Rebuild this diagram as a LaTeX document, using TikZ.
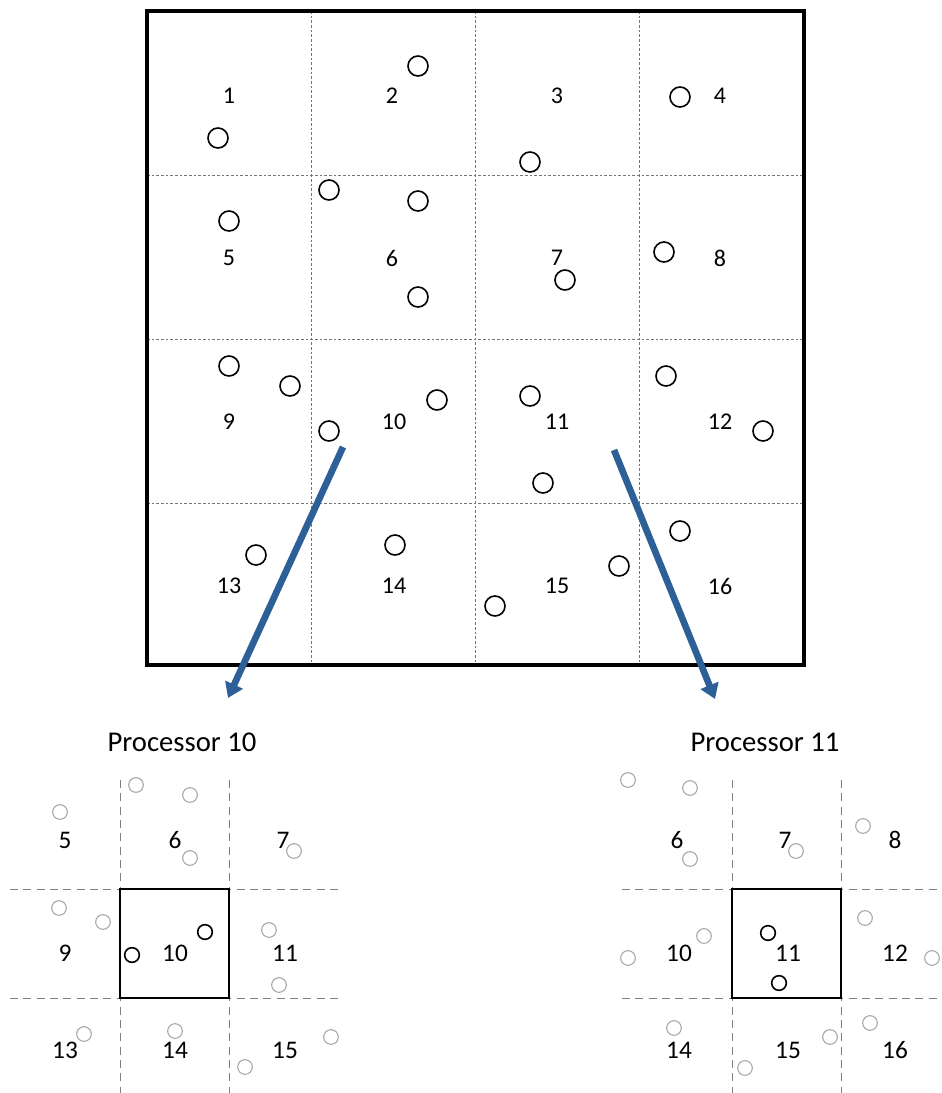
\documentclass[tikz,border=0pt]{standalone}
\usepackage{fontspec}
\setmainfont{Carlito}
\usetikzlibrary{arrows.meta,positioning}
\definecolor{arrowblue}{RGB}{46,96,152}

\begin{document}
\begin{tikzpicture}[
    x=0.75pt, y=-0.75pt,
    lbl/.style={inner sep=0pt, font=\fontsize{18}{21}\selectfont},
    plbl/.style={inner sep=0pt, font=\fontsize{19}{22}\selectfont},
    ptitle/.style={inner sep=0pt, font=\fontsize{21.5}{25}\selectfont},
    particle/.style={line width=1.2pt},
    ghost/.style={line width=0.8pt, gray!70},
    grid/.style={dashed, dash pattern=on 2pt off 1.5pt, line width=0.5pt, gray!90!black},
    halo/.style={dash pattern=on 6pt off 4pt, line width=0.7pt, gray},
    move/.style={line width=5pt, arrowblue, -{Triangle[length=11pt,width=14pt]}}
]
    \useasboundingbox (0,0) rectangle (942,1093);

    % global domain
    \draw[grid] (311,11) -- (311,665) (475,11) -- (475,665) (639,11) -- (639,665);
    \draw[grid] (147,175) -- (804,175) (147,339) -- (804,339) (147,503) -- (804,503);
    \draw[line width=2.6pt] (147,11) rectangle (804,665);

    \foreach \n/\x/\y in {1/229/96, 2/392/96, 3/557/96, 4/720/96,
        5/229/258, 6/392/258, 7/557/258, 8/720/258,
        9/229/422, 10/394/422, 11/557/422, 12/720/422,
        13/229/586, 14/394/586, 15/557/586, 16/720/586}
        \node[lbl] (c\n) at (\x,\y) {\n};

    \foreach \x/\y in {418/66, 218/138, 680/97, 530/162, 329/190, 229/221,
        418/201, 664/252, 565/280, 418/297, 229/366, 290/386, 437/400,
        530/396, 666/376, 329/431, 763/431, 543/483, 680/531, 256/555,
        395/545, 619/566, 495/606}
        \draw[particle] (\x,\y) circle[radius=7.5pt];

    % processor 10
    \node[ptitle] (p10) at (182,742) {Processor 10};
    \draw[halo] (120,780) -- (120,1093) (229,780) -- (229,1093);
    \draw[halo] (10,889) -- (340,889) (10,998) -- (340,998);
    \draw[line width=1.7pt] (120,889) rectangle (229,998);
    \foreach \n/\x/\y in {5/65/840, 6/175/840, 7/283/840,
        9/65/953, 10/175/953, 11/285/953,
        13/65/1050, 14/175/1050, 15/285/1050}
        \node[plbl] (a\n) at (\x,\y) {\n};
    \foreach \x/\y in {60/812, 136/785, 190/795, 190/858, 294/851, 59/908,
        103/922, 269/930, 279/985, 84/1034, 175/1031, 245/1067, 331/1037}
        \draw[ghost] (\x,\y) circle[radius=5.5pt];
    \draw[particle] (132,955) circle[radius=5.5pt] (205,932) circle[radius=5.5pt];

    % processor 11
    \node[ptitle] (p11) at (765,742) {Processor 11};
    \draw[halo] (732,780) -- (732,1093) (841,780) -- (841,1093);
    \draw[halo] (622,889) -- (942,889) (622,998) -- (942,998);
    \draw[line width=1.7pt] (732,889) rectangle (841,998);
    \foreach \n/\x/\y in {6/677/840, 7/785/840, 8/895/840,
        10/679/953, 11/788/953, 12/895/953,
        14/679/1050, 15/788/1050, 16/895/1050}
        \node[plbl] (b\n) at (\x,\y) {\n};
    \foreach \x/\y in {628/780, 690/788, 690/859, 796/851, 863/826, 865/918,
        704/936, 628/958, 932/958, 674/1028, 830/1037, 745/1068, 870/1023}
        \draw[ghost] (\x,\y) circle[radius=5.5pt];
    \draw[particle] (768,933) circle[radius=5.5pt] (779,983) circle[radius=5.5pt];

    % hand-off arrows
    \coordinate (s10) at (343,447);
    \coordinate (e10) at (228,698);
    \coordinate (s11) at (614,450);
    \coordinate (e11) at (715,699);
    \draw[move] (s10) -- (e10);
    \draw[move] (s11) -- (e11);
\end{tikzpicture}
\end{document}
